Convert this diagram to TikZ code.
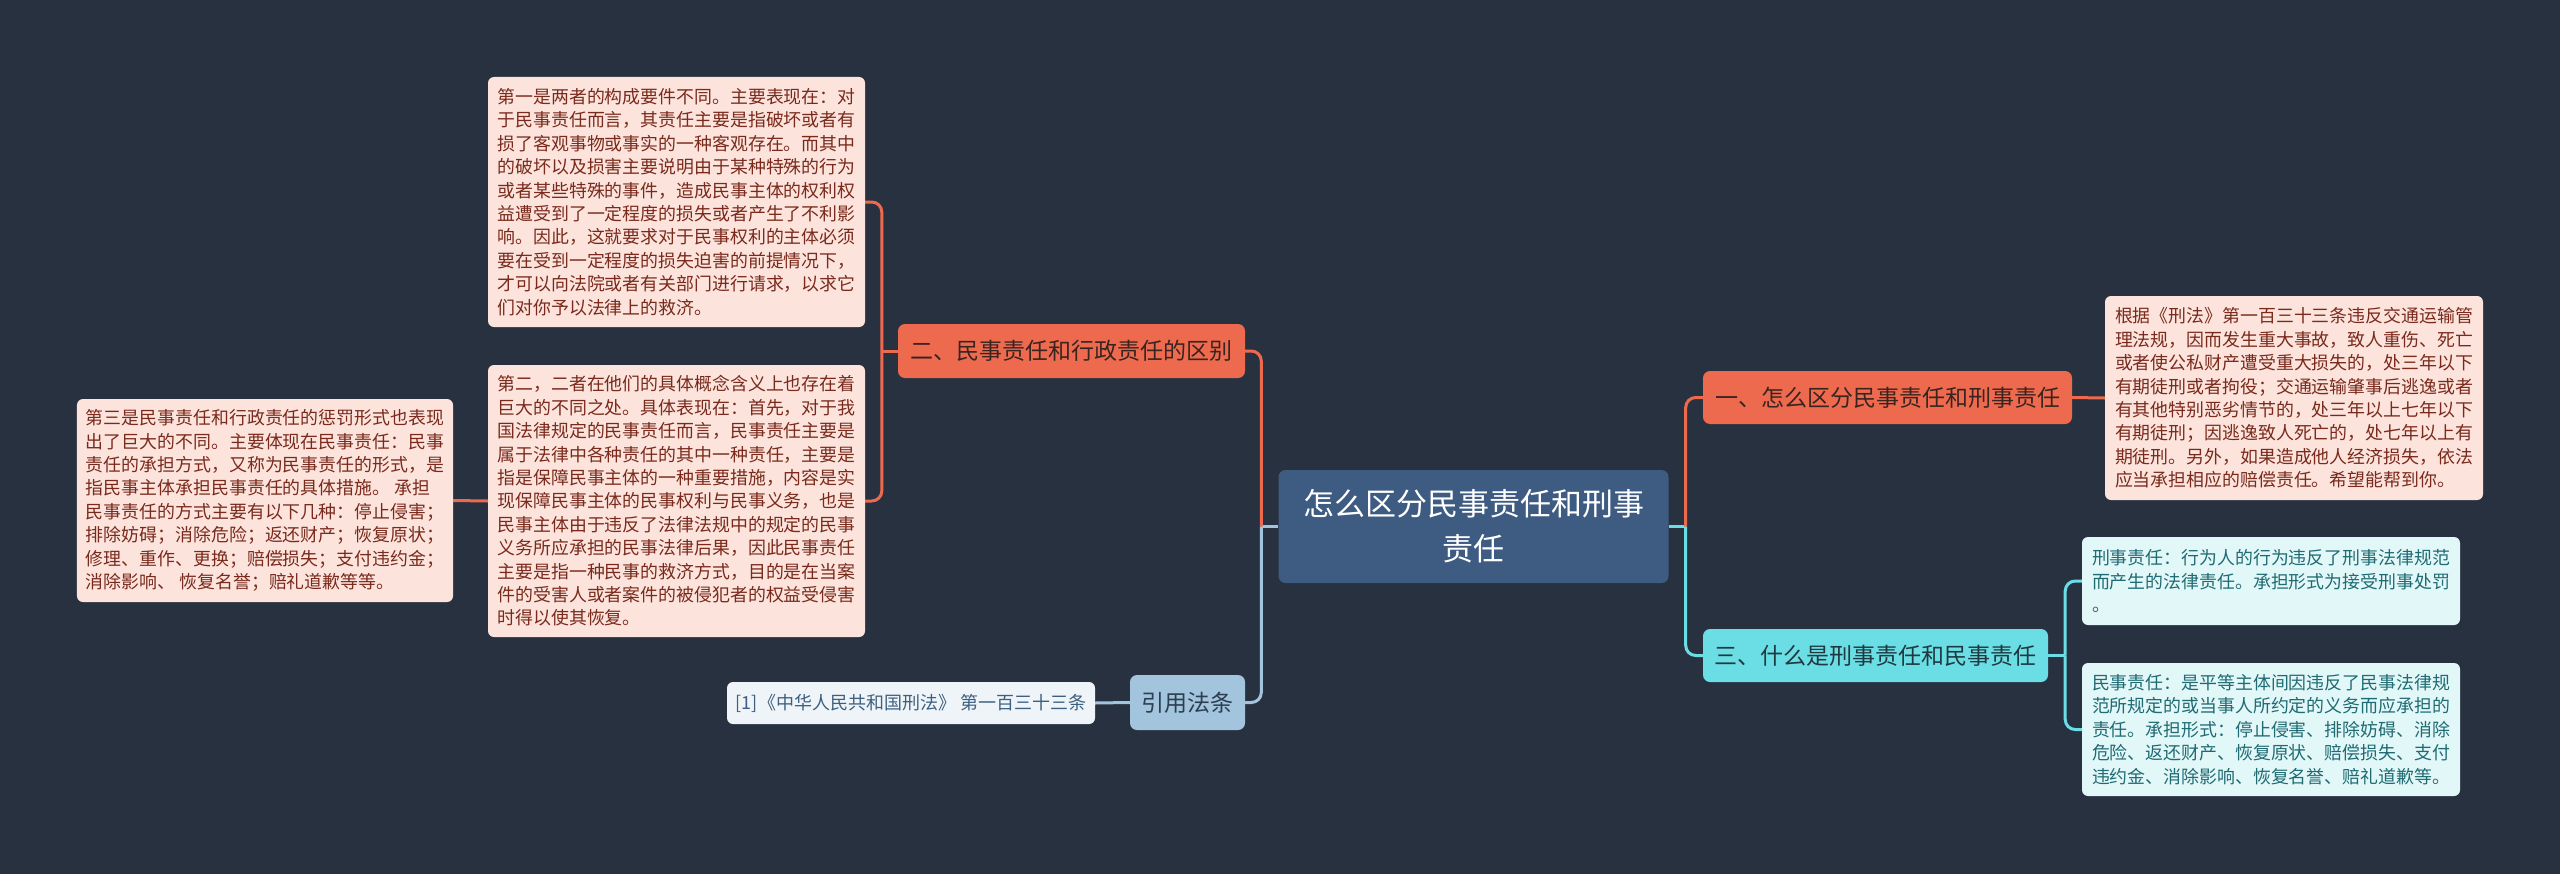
\documentclass[tikz,border=0pt]{standalone}
\usepackage{fontspec}
\setmainfont{Noto Sans CJK SC}
\usetikzlibrary{calc}
\definecolor{bgc}{HTML}{283140}
\definecolor{centc}{HTML}{3E5B82}
\definecolor{orc}{HTML}{EE6A4E}
\definecolor{ortext}{HTML}{3A2420}
\definecolor{leafo}{HTML}{FCE4DD}
\definecolor{leafotext}{HTML}{7A2A1C}
\definecolor{cyc}{HTML}{6BDDE4}
\definecolor{cytext}{HTML}{1E3A40}
\definecolor{leafc}{HTML}{E2F7F8}
\definecolor{leafctext}{HTML}{1F6B73}
\definecolor{blc}{HTML}{A2C4DD}
\definecolor{bltext}{HTML}{2C3E50}
\definecolor{leafb}{HTML}{EEF4F8}
\definecolor{leafbtext}{HTML}{3D6080}
\tikzset{
  box/.style={rounded corners=7bp, inner sep=0pt, anchor=center},
  centralbox/.style={box, fill=centc, text=white, align=center,
    font=\fontsize{31bp}{45bp}\selectfont},
  branchO/.style={box, fill=orc, text=ortext, font=\fontsize{23bp}{28bp}\selectfont},
  branchC/.style={box, fill=cyc, text=cytext, font=\fontsize{23bp}{28bp}\selectfont},
  branchB/.style={box, fill=blc, text=bltext, font=\fontsize{23bp}{28bp}\selectfont},
  leafO/.style={box, rounded corners=6bp, fill=leafo, text=leafotext, align=left,
    font=\fontsize{17.9bp}{23.4bp}\selectfont},
  leafC/.style={box, rounded corners=6bp, fill=leafc, text=leafctext, align=left,
    font=\fontsize{17.9bp}{23.4bp}\selectfont},
  leafB/.style={box, rounded corners=6bp, fill=leafb, text=leafbtext,
    font=\fontsize{18bp}{22bp}\selectfont},
  conn/.style={line width=3bp, rounded corners=10bp},
}
\begin{document}
\begin{tikzpicture}[x=1bp,y=-1bp]
\useasboundingbox (0,0) rectangle (2560,874);
\fill[bgc] (0,0) rectangle (2560,874);

% central
\node[centralbox, minimum width=390bp, minimum height=113bp] (center) at (1473.5,526.5)
  {怎么区分民事责任和刑事\\责任};

% branches
\node[branchO, minimum width=347bp, minimum height=54bp] (b2) at (1071.5,351) {二、民事责任和行政责任的区别};
\node[branchO, minimum width=369bp, minimum height=53bp] (b1) at (1887.5,397.5) {一、怎么区分民事责任和刑事责任};
\node[branchC, minimum width=345bp, minimum height=53bp] (b3) at (1875.5,655.5) {三、什么是刑事责任和民事责任};
\node[branchB, minimum width=115bp, minimum height=55bp] (cite) at (1187.5,702.5) {引用法条};

% leaves
\node[leafO, minimum width=377bp, minimum height=250bp] (t1) at (676.5,202) {第一是两者的构成要件不同。主要表现在：对\\
于民事责任而言，其责任主要是指破坏或者有\\
损了客观事物或事实的一种客观存在。而其中\\
的破坏以及损害主要说明由于某种特殊的行为\\
或者某些特殊的事件，造成民事主体的权利权\\
益遭受到了一定程度的损失或者产生了不利影\\
响。因此，这就要求对于民事权利的主体必须\\
要在受到一定程度的损失迫害的前提情况下，\\
才可以向法院或者有关部门进行请求，以求它\\
们对你予以法律上的救济。};

\node[leafO, minimum width=377bp, minimum height=272bp] (t2) at (676.5,501) {第二，二者在他们的具体概念含义上也存在着\\
巨大的不同之处。具体表现在：首先，对于我\\
国法律规定的民事责任而言，民事责任主要是\\
属于法律中各种责任的其中一种责任，主要是\\
指是保障民事主体的一种重要措施，内容是实\\
现保障民事主体的民事权利与民事义务，也是\\
民事主体由于违反了法律法规中的规定的民事\\
义务所应承担的民事法律后果，因此民事责任\\
主要是指一种民事的救济方式，目的是在当案\\
件的受害人或者案件的被侵犯者的权益受侵害\\
时得以使其恢复。};

\node[leafO, minimum width=376bp, minimum height=203bp] (t3) at (265,500.5) {第三是民事责任和行政责任的惩罚形式也表现\\
出了巨大的不同。主要体现在民事责任：民事\\
责任的承担方式，又称为民事责任的形式，是\\
指民事主体承担民事责任的具体措施。 承担\\
民事责任的方式主要有以下几种：停止侵害；\\
排除妨碍；消除危险；返还财产；恢复原状；\\
修理、重作、更换；赔偿损失；支付违约金；\\
消除影响、 恢复名誉；赔礼道歉等等。};

\node[leafO, minimum width=378bp, minimum height=204bp] (tr) at (2294,398) {根据《刑法》第一百三十三条违反交通运输管\\
理法规，因而发生重大事故，致人重伤、死亡\\
或者使公私财产遭受重大损失的，处三年以下\\
有期徒刑或者拘役；交通运输肇事后逃逸或者\\
有其他特别恶劣情节的，处三年以上七年以下\\
有期徒刑；因逃逸致人死亡的，处七年以上有\\
期徒刑。另外，如果造成他人经济损失，依法\\
应当承担相应的赔偿责任。希望能帮到你。};

\node[leafC, minimum width=378bp, minimum height=88bp] (c1) at (2271,581) {刑事责任：行为人的行为违反了刑事法律规范\\
而产生的法律责任。承担形式为接受刑事处罚\\
。};

\node[leafC, minimum width=378bp, minimum height=133bp] (c2) at (2271,729.5) {民事责任：是平等主体间因违反了民事法律规\\
范所规定的或当事人所约定的义务而应承担的\\
责任。承担形式：停止侵害、排除妨碍、消除\\
危险、返还财产、恢复原状、赔偿损失、支付\\
违约金、消除影响、恢复名誉、赔礼道歉等。};

\node[leafB, minimum width=368bp, minimum height=42bp] (ref) at (911,703) {[1]《中华人民共和国刑法》 第一百三十三条};

% junctions
\coordinate (jL) at ($(center.west)+(-17,0)$);
\coordinate (jR) at ($(center.east)+(17,0)$);
\coordinate (j2) at ($(b2.west)+(-16,0)$);
\coordinate (j3) at ($(b3.east)+(17,0)$);

% connectors
\draw[conn, blc] (center.west) -- (jL);
\draw[conn, orc] (jL) |- (b2.east);
\draw[conn, blc] (jL) |- (cite.east);
\draw[conn, cyc] (center.east) -- (jR);
\draw[conn, orc] (jR) |- (b1.west);
\draw[conn, cyc] (jR) |- (b3.west);
\draw[conn, orc] (b2.west) -- (j2);
\draw[conn, orc] (j2) |- (t1.east);
\draw[conn, orc] (j2) |- (t2.east);
\draw[conn, orc] (t2.west) -- (t3.east);
\draw[conn, orc] (b1.east) -- (tr.west);
\draw[conn, cyc] (b3.east) -- (j3);
\draw[conn, cyc] (j3) |- (c1.west);
\draw[conn, cyc] (j3) |- (c2.west);
\draw[conn, blc] (cite.west) -- (ref.east);
\end{tikzpicture}
\end{document}
